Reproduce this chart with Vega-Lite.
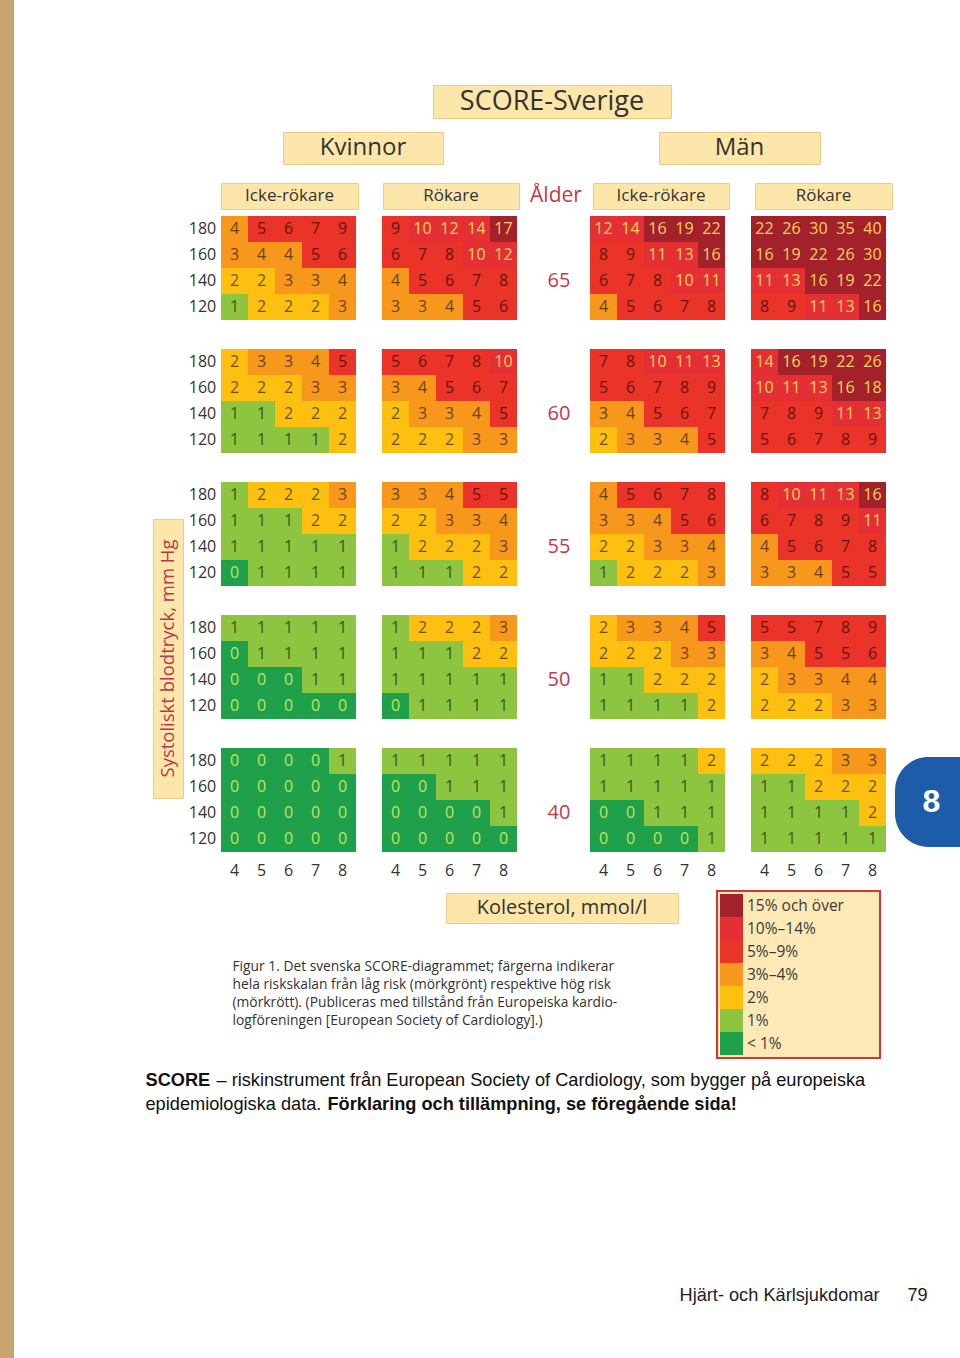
{
"$schema":"https://vega.github.io/schema/vega-lite/v6.json",
"padding":0,
"background":"#ffffff",
"data":{"values":[{}]},
"config":{"view":{"stroke":null},"text":{"font":"Open Sans"},"legend":{"strokeWidth":2}},
"datasets":{
"nivaer":[
{"risk":0,"niva":"< 1%"},{"risk":1,"niva":"1%"},{"risk":2,"niva":"2%"},{"risk":3,"niva":"3%–4%"},{"risk":4,"niva":"3%–4%"},
{"risk":5,"niva":"5%–9%"},{"risk":6,"niva":"5%–9%"},{"risk":7,"niva":"5%–9%"},{"risk":8,"niva":"5%–9%"},{"risk":9,"niva":"5%–9%"},
{"risk":10,"niva":"10%–14%"},{"risk":11,"niva":"10%–14%"},{"risk":12,"niva":"10%–14%"},{"risk":13,"niva":"10%–14%"},{"risk":14,"niva":"10%–14%"},
{"risk":15,"niva":"15% och över"},{"risk":16,"niva":"15% och över"},{"risk":17,"niva":"15% och över"},{"risk":18,"niva":"15% och över"},{"risk":19,"niva":"15% och över"},
{"risk":22,"niva":"15% och över"},{"risk":26,"niva":"15% och över"},{"risk":30,"niva":"15% och över"},{"risk":35,"niva":"15% och över"},{"risk":40,"niva":"15% och över"}
],
"kn":[
{"age":65,"sbp":180,"chol":4,"risk":4},{"age":65,"sbp":180,"chol":5,"risk":5},{"age":65,"sbp":180,"chol":6,"risk":6},{"age":65,"sbp":180,"chol":7,"risk":7},{"age":65,"sbp":180,"chol":8,"risk":9},
{"age":65,"sbp":160,"chol":4,"risk":3},{"age":65,"sbp":160,"chol":5,"risk":4},{"age":65,"sbp":160,"chol":6,"risk":4},{"age":65,"sbp":160,"chol":7,"risk":5},{"age":65,"sbp":160,"chol":8,"risk":6},
{"age":65,"sbp":140,"chol":4,"risk":2},{"age":65,"sbp":140,"chol":5,"risk":2},{"age":65,"sbp":140,"chol":6,"risk":3},{"age":65,"sbp":140,"chol":7,"risk":3},{"age":65,"sbp":140,"chol":8,"risk":4},
{"age":65,"sbp":120,"chol":4,"risk":1},{"age":65,"sbp":120,"chol":5,"risk":2},{"age":65,"sbp":120,"chol":6,"risk":2},{"age":65,"sbp":120,"chol":7,"risk":2},{"age":65,"sbp":120,"chol":8,"risk":3},
{"age":60,"sbp":180,"chol":4,"risk":2},{"age":60,"sbp":180,"chol":5,"risk":3},{"age":60,"sbp":180,"chol":6,"risk":3},{"age":60,"sbp":180,"chol":7,"risk":4},{"age":60,"sbp":180,"chol":8,"risk":5},
{"age":60,"sbp":160,"chol":4,"risk":2},{"age":60,"sbp":160,"chol":5,"risk":2},{"age":60,"sbp":160,"chol":6,"risk":2},{"age":60,"sbp":160,"chol":7,"risk":3},{"age":60,"sbp":160,"chol":8,"risk":3},
{"age":60,"sbp":140,"chol":4,"risk":1},{"age":60,"sbp":140,"chol":5,"risk":1},{"age":60,"sbp":140,"chol":6,"risk":2},{"age":60,"sbp":140,"chol":7,"risk":2},{"age":60,"sbp":140,"chol":8,"risk":2},
{"age":60,"sbp":120,"chol":4,"risk":1},{"age":60,"sbp":120,"chol":5,"risk":1},{"age":60,"sbp":120,"chol":6,"risk":1},{"age":60,"sbp":120,"chol":7,"risk":1},{"age":60,"sbp":120,"chol":8,"risk":2},
{"age":55,"sbp":180,"chol":4,"risk":1},{"age":55,"sbp":180,"chol":5,"risk":2},{"age":55,"sbp":180,"chol":6,"risk":2},{"age":55,"sbp":180,"chol":7,"risk":2},{"age":55,"sbp":180,"chol":8,"risk":3},
{"age":55,"sbp":160,"chol":4,"risk":1},{"age":55,"sbp":160,"chol":5,"risk":1},{"age":55,"sbp":160,"chol":6,"risk":1},{"age":55,"sbp":160,"chol":7,"risk":2},{"age":55,"sbp":160,"chol":8,"risk":2},
{"age":55,"sbp":140,"chol":4,"risk":1},{"age":55,"sbp":140,"chol":5,"risk":1},{"age":55,"sbp":140,"chol":6,"risk":1},{"age":55,"sbp":140,"chol":7,"risk":1},{"age":55,"sbp":140,"chol":8,"risk":1},
{"age":55,"sbp":120,"chol":4,"risk":0},{"age":55,"sbp":120,"chol":5,"risk":1},{"age":55,"sbp":120,"chol":6,"risk":1},{"age":55,"sbp":120,"chol":7,"risk":1},{"age":55,"sbp":120,"chol":8,"risk":1},
{"age":50,"sbp":180,"chol":4,"risk":1},{"age":50,"sbp":180,"chol":5,"risk":1},{"age":50,"sbp":180,"chol":6,"risk":1},{"age":50,"sbp":180,"chol":7,"risk":1},{"age":50,"sbp":180,"chol":8,"risk":1},
{"age":50,"sbp":160,"chol":4,"risk":0},{"age":50,"sbp":160,"chol":5,"risk":1},{"age":50,"sbp":160,"chol":6,"risk":1},{"age":50,"sbp":160,"chol":7,"risk":1},{"age":50,"sbp":160,"chol":8,"risk":1},
{"age":50,"sbp":140,"chol":4,"risk":0},{"age":50,"sbp":140,"chol":5,"risk":0},{"age":50,"sbp":140,"chol":6,"risk":0},{"age":50,"sbp":140,"chol":7,"risk":1},{"age":50,"sbp":140,"chol":8,"risk":1},
{"age":50,"sbp":120,"chol":4,"risk":0},{"age":50,"sbp":120,"chol":5,"risk":0},{"age":50,"sbp":120,"chol":6,"risk":0},{"age":50,"sbp":120,"chol":7,"risk":0},{"age":50,"sbp":120,"chol":8,"risk":0},
{"age":40,"sbp":180,"chol":4,"risk":0},{"age":40,"sbp":180,"chol":5,"risk":0},{"age":40,"sbp":180,"chol":6,"risk":0},{"age":40,"sbp":180,"chol":7,"risk":0},{"age":40,"sbp":180,"chol":8,"risk":1},
{"age":40,"sbp":160,"chol":4,"risk":0},{"age":40,"sbp":160,"chol":5,"risk":0},{"age":40,"sbp":160,"chol":6,"risk":0},{"age":40,"sbp":160,"chol":7,"risk":0},{"age":40,"sbp":160,"chol":8,"risk":0},
{"age":40,"sbp":140,"chol":4,"risk":0},{"age":40,"sbp":140,"chol":5,"risk":0},{"age":40,"sbp":140,"chol":6,"risk":0},{"age":40,"sbp":140,"chol":7,"risk":0},{"age":40,"sbp":140,"chol":8,"risk":0},
{"age":40,"sbp":120,"chol":4,"risk":0},{"age":40,"sbp":120,"chol":5,"risk":0},{"age":40,"sbp":120,"chol":6,"risk":0},{"age":40,"sbp":120,"chol":7,"risk":0},{"age":40,"sbp":120,"chol":8,"risk":0}
],
"kr":[
{"age":65,"sbp":180,"chol":4,"risk":9},{"age":65,"sbp":180,"chol":5,"risk":10},{"age":65,"sbp":180,"chol":6,"risk":12},{"age":65,"sbp":180,"chol":7,"risk":14},{"age":65,"sbp":180,"chol":8,"risk":17},
{"age":65,"sbp":160,"chol":4,"risk":6},{"age":65,"sbp":160,"chol":5,"risk":7},{"age":65,"sbp":160,"chol":6,"risk":8},{"age":65,"sbp":160,"chol":7,"risk":10},{"age":65,"sbp":160,"chol":8,"risk":12},
{"age":65,"sbp":140,"chol":4,"risk":4},{"age":65,"sbp":140,"chol":5,"risk":5},{"age":65,"sbp":140,"chol":6,"risk":6},{"age":65,"sbp":140,"chol":7,"risk":7},{"age":65,"sbp":140,"chol":8,"risk":8},
{"age":65,"sbp":120,"chol":4,"risk":3},{"age":65,"sbp":120,"chol":5,"risk":3},{"age":65,"sbp":120,"chol":6,"risk":4},{"age":65,"sbp":120,"chol":7,"risk":5},{"age":65,"sbp":120,"chol":8,"risk":6},
{"age":60,"sbp":180,"chol":4,"risk":5},{"age":60,"sbp":180,"chol":5,"risk":6},{"age":60,"sbp":180,"chol":6,"risk":7},{"age":60,"sbp":180,"chol":7,"risk":8},{"age":60,"sbp":180,"chol":8,"risk":10},
{"age":60,"sbp":160,"chol":4,"risk":3},{"age":60,"sbp":160,"chol":5,"risk":4},{"age":60,"sbp":160,"chol":6,"risk":5},{"age":60,"sbp":160,"chol":7,"risk":6},{"age":60,"sbp":160,"chol":8,"risk":7},
{"age":60,"sbp":140,"chol":4,"risk":2},{"age":60,"sbp":140,"chol":5,"risk":3},{"age":60,"sbp":140,"chol":6,"risk":3},{"age":60,"sbp":140,"chol":7,"risk":4},{"age":60,"sbp":140,"chol":8,"risk":5},
{"age":60,"sbp":120,"chol":4,"risk":2},{"age":60,"sbp":120,"chol":5,"risk":2},{"age":60,"sbp":120,"chol":6,"risk":2},{"age":60,"sbp":120,"chol":7,"risk":3},{"age":60,"sbp":120,"chol":8,"risk":3},
{"age":55,"sbp":180,"chol":4,"risk":3},{"age":55,"sbp":180,"chol":5,"risk":3},{"age":55,"sbp":180,"chol":6,"risk":4},{"age":55,"sbp":180,"chol":7,"risk":5},{"age":55,"sbp":180,"chol":8,"risk":5},
{"age":55,"sbp":160,"chol":4,"risk":2},{"age":55,"sbp":160,"chol":5,"risk":2},{"age":55,"sbp":160,"chol":6,"risk":3},{"age":55,"sbp":160,"chol":7,"risk":3},{"age":55,"sbp":160,"chol":8,"risk":4},
{"age":55,"sbp":140,"chol":4,"risk":1},{"age":55,"sbp":140,"chol":5,"risk":2},{"age":55,"sbp":140,"chol":6,"risk":2},{"age":55,"sbp":140,"chol":7,"risk":2},{"age":55,"sbp":140,"chol":8,"risk":3},
{"age":55,"sbp":120,"chol":4,"risk":1},{"age":55,"sbp":120,"chol":5,"risk":1},{"age":55,"sbp":120,"chol":6,"risk":1},{"age":55,"sbp":120,"chol":7,"risk":2},{"age":55,"sbp":120,"chol":8,"risk":2},
{"age":50,"sbp":180,"chol":4,"risk":1},{"age":50,"sbp":180,"chol":5,"risk":2},{"age":50,"sbp":180,"chol":6,"risk":2},{"age":50,"sbp":180,"chol":7,"risk":2},{"age":50,"sbp":180,"chol":8,"risk":3},
{"age":50,"sbp":160,"chol":4,"risk":1},{"age":50,"sbp":160,"chol":5,"risk":1},{"age":50,"sbp":160,"chol":6,"risk":1},{"age":50,"sbp":160,"chol":7,"risk":2},{"age":50,"sbp":160,"chol":8,"risk":2},
{"age":50,"sbp":140,"chol":4,"risk":1},{"age":50,"sbp":140,"chol":5,"risk":1},{"age":50,"sbp":140,"chol":6,"risk":1},{"age":50,"sbp":140,"chol":7,"risk":1},{"age":50,"sbp":140,"chol":8,"risk":1},
{"age":50,"sbp":120,"chol":4,"risk":0},{"age":50,"sbp":120,"chol":5,"risk":1},{"age":50,"sbp":120,"chol":6,"risk":1},{"age":50,"sbp":120,"chol":7,"risk":1},{"age":50,"sbp":120,"chol":8,"risk":1},
{"age":40,"sbp":180,"chol":4,"risk":1},{"age":40,"sbp":180,"chol":5,"risk":1},{"age":40,"sbp":180,"chol":6,"risk":1},{"age":40,"sbp":180,"chol":7,"risk":1},{"age":40,"sbp":180,"chol":8,"risk":1},
{"age":40,"sbp":160,"chol":4,"risk":0},{"age":40,"sbp":160,"chol":5,"risk":0},{"age":40,"sbp":160,"chol":6,"risk":1},{"age":40,"sbp":160,"chol":7,"risk":1},{"age":40,"sbp":160,"chol":8,"risk":1},
{"age":40,"sbp":140,"chol":4,"risk":0},{"age":40,"sbp":140,"chol":5,"risk":0},{"age":40,"sbp":140,"chol":6,"risk":0},{"age":40,"sbp":140,"chol":7,"risk":0},{"age":40,"sbp":140,"chol":8,"risk":1},
{"age":40,"sbp":120,"chol":4,"risk":0},{"age":40,"sbp":120,"chol":5,"risk":0},{"age":40,"sbp":120,"chol":6,"risk":0},{"age":40,"sbp":120,"chol":7,"risk":0},{"age":40,"sbp":120,"chol":8,"risk":0}
],
"mn":[
{"age":65,"sbp":180,"chol":4,"risk":12},{"age":65,"sbp":180,"chol":5,"risk":14},{"age":65,"sbp":180,"chol":6,"risk":16},{"age":65,"sbp":180,"chol":7,"risk":19},{"age":65,"sbp":180,"chol":8,"risk":22},
{"age":65,"sbp":160,"chol":4,"risk":8},{"age":65,"sbp":160,"chol":5,"risk":9},{"age":65,"sbp":160,"chol":6,"risk":11},{"age":65,"sbp":160,"chol":7,"risk":13},{"age":65,"sbp":160,"chol":8,"risk":16},
{"age":65,"sbp":140,"chol":4,"risk":6},{"age":65,"sbp":140,"chol":5,"risk":7},{"age":65,"sbp":140,"chol":6,"risk":8},{"age":65,"sbp":140,"chol":7,"risk":10},{"age":65,"sbp":140,"chol":8,"risk":11},
{"age":65,"sbp":120,"chol":4,"risk":4},{"age":65,"sbp":120,"chol":5,"risk":5},{"age":65,"sbp":120,"chol":6,"risk":6},{"age":65,"sbp":120,"chol":7,"risk":7},{"age":65,"sbp":120,"chol":8,"risk":8},
{"age":60,"sbp":180,"chol":4,"risk":7},{"age":60,"sbp":180,"chol":5,"risk":8},{"age":60,"sbp":180,"chol":6,"risk":10},{"age":60,"sbp":180,"chol":7,"risk":11},{"age":60,"sbp":180,"chol":8,"risk":13},
{"age":60,"sbp":160,"chol":4,"risk":5},{"age":60,"sbp":160,"chol":5,"risk":6},{"age":60,"sbp":160,"chol":6,"risk":7},{"age":60,"sbp":160,"chol":7,"risk":8},{"age":60,"sbp":160,"chol":8,"risk":9},
{"age":60,"sbp":140,"chol":4,"risk":3},{"age":60,"sbp":140,"chol":5,"risk":4},{"age":60,"sbp":140,"chol":6,"risk":5},{"age":60,"sbp":140,"chol":7,"risk":6},{"age":60,"sbp":140,"chol":8,"risk":7},
{"age":60,"sbp":120,"chol":4,"risk":2},{"age":60,"sbp":120,"chol":5,"risk":3},{"age":60,"sbp":120,"chol":6,"risk":3},{"age":60,"sbp":120,"chol":7,"risk":4},{"age":60,"sbp":120,"chol":8,"risk":5},
{"age":55,"sbp":180,"chol":4,"risk":4},{"age":55,"sbp":180,"chol":5,"risk":5},{"age":55,"sbp":180,"chol":6,"risk":6},{"age":55,"sbp":180,"chol":7,"risk":7},{"age":55,"sbp":180,"chol":8,"risk":8},
{"age":55,"sbp":160,"chol":4,"risk":3},{"age":55,"sbp":160,"chol":5,"risk":3},{"age":55,"sbp":160,"chol":6,"risk":4},{"age":55,"sbp":160,"chol":7,"risk":5},{"age":55,"sbp":160,"chol":8,"risk":6},
{"age":55,"sbp":140,"chol":4,"risk":2},{"age":55,"sbp":140,"chol":5,"risk":2},{"age":55,"sbp":140,"chol":6,"risk":3},{"age":55,"sbp":140,"chol":7,"risk":3},{"age":55,"sbp":140,"chol":8,"risk":4},
{"age":55,"sbp":120,"chol":4,"risk":1},{"age":55,"sbp":120,"chol":5,"risk":2},{"age":55,"sbp":120,"chol":6,"risk":2},{"age":55,"sbp":120,"chol":7,"risk":2},{"age":55,"sbp":120,"chol":8,"risk":3},
{"age":50,"sbp":180,"chol":4,"risk":2},{"age":50,"sbp":180,"chol":5,"risk":3},{"age":50,"sbp":180,"chol":6,"risk":3},{"age":50,"sbp":180,"chol":7,"risk":4},{"age":50,"sbp":180,"chol":8,"risk":5},
{"age":50,"sbp":160,"chol":4,"risk":2},{"age":50,"sbp":160,"chol":5,"risk":2},{"age":50,"sbp":160,"chol":6,"risk":2},{"age":50,"sbp":160,"chol":7,"risk":3},{"age":50,"sbp":160,"chol":8,"risk":3},
{"age":50,"sbp":140,"chol":4,"risk":1},{"age":50,"sbp":140,"chol":5,"risk":1},{"age":50,"sbp":140,"chol":6,"risk":2},{"age":50,"sbp":140,"chol":7,"risk":2},{"age":50,"sbp":140,"chol":8,"risk":2},
{"age":50,"sbp":120,"chol":4,"risk":1},{"age":50,"sbp":120,"chol":5,"risk":1},{"age":50,"sbp":120,"chol":6,"risk":1},{"age":50,"sbp":120,"chol":7,"risk":1},{"age":50,"sbp":120,"chol":8,"risk":2},
{"age":40,"sbp":180,"chol":4,"risk":1},{"age":40,"sbp":180,"chol":5,"risk":1},{"age":40,"sbp":180,"chol":6,"risk":1},{"age":40,"sbp":180,"chol":7,"risk":1},{"age":40,"sbp":180,"chol":8,"risk":2},
{"age":40,"sbp":160,"chol":4,"risk":1},{"age":40,"sbp":160,"chol":5,"risk":1},{"age":40,"sbp":160,"chol":6,"risk":1},{"age":40,"sbp":160,"chol":7,"risk":1},{"age":40,"sbp":160,"chol":8,"risk":1},
{"age":40,"sbp":140,"chol":4,"risk":0},{"age":40,"sbp":140,"chol":5,"risk":0},{"age":40,"sbp":140,"chol":6,"risk":1},{"age":40,"sbp":140,"chol":7,"risk":1},{"age":40,"sbp":140,"chol":8,"risk":1},
{"age":40,"sbp":120,"chol":4,"risk":0},{"age":40,"sbp":120,"chol":5,"risk":0},{"age":40,"sbp":120,"chol":6,"risk":0},{"age":40,"sbp":120,"chol":7,"risk":0},{"age":40,"sbp":120,"chol":8,"risk":1}
],
"mr":[
{"age":65,"sbp":180,"chol":4,"risk":22},{"age":65,"sbp":180,"chol":5,"risk":26},{"age":65,"sbp":180,"chol":6,"risk":30},{"age":65,"sbp":180,"chol":7,"risk":35},{"age":65,"sbp":180,"chol":8,"risk":40},
{"age":65,"sbp":160,"chol":4,"risk":16},{"age":65,"sbp":160,"chol":5,"risk":19},{"age":65,"sbp":160,"chol":6,"risk":22},{"age":65,"sbp":160,"chol":7,"risk":26},{"age":65,"sbp":160,"chol":8,"risk":30},
{"age":65,"sbp":140,"chol":4,"risk":11},{"age":65,"sbp":140,"chol":5,"risk":13},{"age":65,"sbp":140,"chol":6,"risk":16},{"age":65,"sbp":140,"chol":7,"risk":19},{"age":65,"sbp":140,"chol":8,"risk":22},
{"age":65,"sbp":120,"chol":4,"risk":8},{"age":65,"sbp":120,"chol":5,"risk":9},{"age":65,"sbp":120,"chol":6,"risk":11},{"age":65,"sbp":120,"chol":7,"risk":13},{"age":65,"sbp":120,"chol":8,"risk":16},
{"age":60,"sbp":180,"chol":4,"risk":14},{"age":60,"sbp":180,"chol":5,"risk":16},{"age":60,"sbp":180,"chol":6,"risk":19},{"age":60,"sbp":180,"chol":7,"risk":22},{"age":60,"sbp":180,"chol":8,"risk":26},
{"age":60,"sbp":160,"chol":4,"risk":10},{"age":60,"sbp":160,"chol":5,"risk":11},{"age":60,"sbp":160,"chol":6,"risk":13},{"age":60,"sbp":160,"chol":7,"risk":16},{"age":60,"sbp":160,"chol":8,"risk":18},
{"age":60,"sbp":140,"chol":4,"risk":7},{"age":60,"sbp":140,"chol":5,"risk":8},{"age":60,"sbp":140,"chol":6,"risk":9},{"age":60,"sbp":140,"chol":7,"risk":11},{"age":60,"sbp":140,"chol":8,"risk":13},
{"age":60,"sbp":120,"chol":4,"risk":5},{"age":60,"sbp":120,"chol":5,"risk":6},{"age":60,"sbp":120,"chol":6,"risk":7},{"age":60,"sbp":120,"chol":7,"risk":8},{"age":60,"sbp":120,"chol":8,"risk":9},
{"age":55,"sbp":180,"chol":4,"risk":8},{"age":55,"sbp":180,"chol":5,"risk":10},{"age":55,"sbp":180,"chol":6,"risk":11},{"age":55,"sbp":180,"chol":7,"risk":13},{"age":55,"sbp":180,"chol":8,"risk":16},
{"age":55,"sbp":160,"chol":4,"risk":6},{"age":55,"sbp":160,"chol":5,"risk":7},{"age":55,"sbp":160,"chol":6,"risk":8},{"age":55,"sbp":160,"chol":7,"risk":9},{"age":55,"sbp":160,"chol":8,"risk":11},
{"age":55,"sbp":140,"chol":4,"risk":4},{"age":55,"sbp":140,"chol":5,"risk":5},{"age":55,"sbp":140,"chol":6,"risk":6},{"age":55,"sbp":140,"chol":7,"risk":7},{"age":55,"sbp":140,"chol":8,"risk":8},
{"age":55,"sbp":120,"chol":4,"risk":3},{"age":55,"sbp":120,"chol":5,"risk":3},{"age":55,"sbp":120,"chol":6,"risk":4},{"age":55,"sbp":120,"chol":7,"risk":5},{"age":55,"sbp":120,"chol":8,"risk":5},
{"age":50,"sbp":180,"chol":4,"risk":5},{"age":50,"sbp":180,"chol":5,"risk":5},{"age":50,"sbp":180,"chol":6,"risk":7},{"age":50,"sbp":180,"chol":7,"risk":8},{"age":50,"sbp":180,"chol":8,"risk":9},
{"age":50,"sbp":160,"chol":4,"risk":3},{"age":50,"sbp":160,"chol":5,"risk":4},{"age":50,"sbp":160,"chol":6,"risk":5},{"age":50,"sbp":160,"chol":7,"risk":5},{"age":50,"sbp":160,"chol":8,"risk":6},
{"age":50,"sbp":140,"chol":4,"risk":2},{"age":50,"sbp":140,"chol":5,"risk":3},{"age":50,"sbp":140,"chol":6,"risk":3},{"age":50,"sbp":140,"chol":7,"risk":4},{"age":50,"sbp":140,"chol":8,"risk":4},
{"age":50,"sbp":120,"chol":4,"risk":2},{"age":50,"sbp":120,"chol":5,"risk":2},{"age":50,"sbp":120,"chol":6,"risk":2},{"age":50,"sbp":120,"chol":7,"risk":3},{"age":50,"sbp":120,"chol":8,"risk":3},
{"age":40,"sbp":180,"chol":4,"risk":2},{"age":40,"sbp":180,"chol":5,"risk":2},{"age":40,"sbp":180,"chol":6,"risk":2},{"age":40,"sbp":180,"chol":7,"risk":3},{"age":40,"sbp":180,"chol":8,"risk":3},
{"age":40,"sbp":160,"chol":4,"risk":1},{"age":40,"sbp":160,"chol":5,"risk":1},{"age":40,"sbp":160,"chol":6,"risk":2},{"age":40,"sbp":160,"chol":7,"risk":2},{"age":40,"sbp":160,"chol":8,"risk":2},
{"age":40,"sbp":140,"chol":4,"risk":1},{"age":40,"sbp":140,"chol":5,"risk":1},{"age":40,"sbp":140,"chol":6,"risk":1},{"age":40,"sbp":140,"chol":7,"risk":1},{"age":40,"sbp":140,"chol":8,"risk":2},
{"age":40,"sbp":120,"chol":4,"risk":1},{"age":40,"sbp":120,"chol":5,"risk":1},{"age":40,"sbp":120,"chol":6,"risk":1},{"age":40,"sbp":120,"chol":7,"risk":1},{"age":40,"sbp":120,"chol":8,"risk":1}
]
},
"spacing":0,
"hconcat":[
{"width":14,"height":1358,"mark":{"type":"rect","color":"#C9A46E"},"encoding":{}},
{"spacing":0,"vconcat":[
{"width":1,"height":84,"mark":{"type":"rect","opacity":0},"encoding":{}},
{"spacing":0,"hconcat":[
{"width":418,"height":33,"mark":{"type":"rect","opacity":0},"encoding":{}},
{"width":238,"height":33,"view":{"fill":"#FDE6A9","stroke":"#EECB88","strokeWidth":1},"mark":{"type":"text","fontSize":27,"font":"Open Sans","color":"#333333"},"encoding":{"text":{"value":"SCORE-Sverige"}}}
]},
{"width":1,"height":12,"mark":{"type":"rect","opacity":0},"encoding":{}},
{"spacing":0,"hconcat":[
{"width":268,"height":32,"mark":{"type":"rect","opacity":0},"encoding":{}},
{"width":160,"height":32,"view":{"fill":"#FDE6A9","stroke":"#EECB88","strokeWidth":1},"mark":{"type":"text","fontSize":24,"font":"Open Sans","color":"#333333"},"encoding":{"text":{"value":"Kvinnor"}}},
{"width":214,"height":32,"mark":{"type":"rect","opacity":0},"encoding":{}},
{"width":161,"height":32,"view":{"fill":"#FDE6A9","stroke":"#EECB88","strokeWidth":1},"mark":{"type":"text","fontSize":24,"font":"Open Sans","color":"#333333"},"encoding":{"text":{"value":"Män"}}}
]},
{"width":1,"height":17,"mark":{"type":"rect","opacity":0},"encoding":{}},
{"spacing":0,"hconcat":[
{"width":206,"height":26,"mark":{"type":"rect","opacity":0},"encoding":{}},
{"width":137,"height":26,"view":{"fill":"#FDE6A9","stroke":"#EECB88","strokeWidth":1},"mark":{"type":"text","fontSize":17,"font":"Open Sans","color":"#333333"},"encoding":{"text":{"value":"Icke-rökare"}}},
{"width":23,"height":26,"mark":{"type":"rect","opacity":0},"encoding":{}},
{"width":136,"height":26,"view":{"fill":"#FDE6A9","stroke":"#EECB88","strokeWidth":1},"mark":{"type":"text","fontSize":17,"font":"Open Sans","color":"#333333"},"encoding":{"text":{"value":"Rökare"}}},
{"width":72,"height":26,"mark":{"type":"text","fontSize":21,"font":"Open Sans","color":"#C23A4D"},"encoding":{"text":{"value":"Ålder"}}},
{"width":136,"height":26,"view":{"fill":"#FDE6A9","stroke":"#EECB88","strokeWidth":1},"mark":{"type":"text","fontSize":17,"font":"Open Sans","color":"#333333"},"encoding":{"text":{"value":"Icke-rökare"}}},
{"width":24,"height":26,"mark":{"type":"rect","opacity":0},"encoding":{}},
{"width":137,"height":26,"view":{"fill":"#FDE6A9","stroke":"#EECB88","strokeWidth":1},"mark":{"type":"text","fontSize":17,"font":"Open Sans","color":"#333333"},"encoding":{"text":{"value":"Rökare"}}}
]},
{"width":1,"height":6,"mark":{"type":"rect","opacity":0},"encoding":{}},
{"spacing":0,"resolve":{"scale":{"yOffset":"independent"}},"hconcat":[
{"width":138,"height":636,"mark":{"type":"rect","opacity":0},"encoding":{}},
{"spacing":0,"vconcat":[
{"width":30,"height":302,"mark":{"type":"rect","opacity":0},"encoding":{}},
{"width":30,"height":279,"view":{"fill":"#FDE6A9","stroke":"#EECB88","strokeWidth":1},"mark":{"type":"text","angle":270,"fontSize":18.5,"font":"Open Sans","color":"#B8384B"},"encoding":{"text":{"value":"Systoliskt blodtryck, mm Hg"}}}
]},
{"width":37,"height":636,"data":{"name":"kn"},"transform":[{"filter":"datum.chol == 4"}],"mark":{"type":"text","fontSize":16,"font":"Open Sans","color":"#333333"},"encoding":{"y":{"field":"age","type":"ordinal","scale":{"type":"band","domain":[65,60,55,50,40],"paddingInner":0.2180451,"paddingOuter":0},"axis":null},"yOffset":{"field":"sbp","type":"ordinal","scale":{"type":"band","domain":[180,160,140,120],"paddingInner":0,"paddingOuter":0}},"text":{"field":"sbp"}}},
{"width":135,"height":636,"data":{"name":"kn"},"transform":[{"lookup":"risk","from":{"data":{"name":"nivaer"},"key":"risk","fields":["niva"]}}],
 "encoding":{"x":{"field":"chol","type":"ordinal","scale":{"domain":[4,5,6,7,8],"paddingInner":0,"paddingOuter":0},"axis":{"orient":"bottom","title":null,"labelAngle":0,"domain":false,"ticks":false,"tickSize":0,"labelPadding":10,"labelFontSize":16,"labelFont":"Open Sans","labelColor":"#333333"}},
 "y":{"field":"age","type":"ordinal","scale":{"domain":[65,60,55,50,40],"paddingInner":0.2180451,"paddingOuter":0},"axis":null},
 "yOffset":{"field":"sbp","type":"ordinal","scale":{"domain":[180,160,140,120],"paddingInner":0,"paddingOuter":0}}},
 "layer":[
 {"mark":{"type":"rect"},"encoding":{"color":{"field":"niva","type":"nominal","scale":{"domain":["15% och över","10%–14%","5%–9%","3%–4%","2%","1%","< 1%"],"range":["#A2212A","#E42F35","#EA3329","#F7981D","#FDC010","#8DC540","#1FA04B"]},"legend":{"orient":"none","legendX":717,"legendY":891,"title":null,"labelExpr":"datum.label + '\u00a0\u00a0\u00a0\u00a0\u00a0\u00a0\u00a0\u00a0\u200b'","symbolType":"square","symbolSize":529,"symbolStrokeWidth":0,"symbolOpacity":1,"rowPadding":0,"labelOffset":4,"labelFontSize":15.5,"labelFont":"Open Sans","labelColor":"#3a3a3a","padding":3,"fillColor":"#FDE9B5","strokeColor":"#D2353A"}}}},
 {"mark":{"type":"text","fontSize":16,"font":"Open Sans"},"encoding":{"text":{"field":"risk"},"color":{"condition":[{"test":"datum.risk >= 10","value":"#FCD35C"},{"test":"datum.risk == 0","value":"#C2E45E"}],"value":"#000000"},"opacity":{"condition":{"test":"datum.risk >= 10 || datum.risk == 0","value":1},"value":0.58}}}
 ]},
{"width":26,"height":636,"mark":{"type":"rect","opacity":0},"encoding":{}},
{"width":135,"height":636,"data":{"name":"kr"},"transform":[{"lookup":"risk","from":{"data":{"name":"nivaer"},"key":"risk","fields":["niva"]}}],
 "encoding":{"x":{"field":"chol","type":"ordinal","scale":{"domain":[4,5,6,7,8],"paddingInner":0,"paddingOuter":0},"axis":{"orient":"bottom","title":null,"labelAngle":0,"domain":false,"ticks":false,"tickSize":0,"labelPadding":10,"labelFontSize":16,"labelFont":"Open Sans","labelColor":"#333333"}},
 "y":{"field":"age","type":"ordinal","scale":{"domain":[65,60,55,50,40],"paddingInner":0.2180451,"paddingOuter":0},"axis":null},
 "yOffset":{"field":"sbp","type":"ordinal","scale":{"domain":[180,160,140,120],"paddingInner":0,"paddingOuter":0}}},
 "layer":[
 {"mark":{"type":"rect"},"encoding":{"color":{"field":"niva","type":"nominal","scale":{"domain":["15% och över","10%–14%","5%–9%","3%–4%","2%","1%","< 1%"],"range":["#A2212A","#E42F35","#EA3329","#F7981D","#FDC010","#8DC540","#1FA04B"]},"legend":{"orient":"none","legendX":717,"legendY":891,"title":null,"labelExpr":"datum.label + '\u00a0\u00a0\u00a0\u00a0\u00a0\u00a0\u00a0\u00a0\u200b'","symbolType":"square","symbolSize":529,"symbolStrokeWidth":0,"symbolOpacity":1,"rowPadding":0,"labelOffset":4,"labelFontSize":15.5,"labelFont":"Open Sans","labelColor":"#3a3a3a","padding":3,"fillColor":"#FDE9B5","strokeColor":"#D2353A"}}}},
 {"mark":{"type":"text","fontSize":16,"font":"Open Sans"},"encoding":{"text":{"field":"risk"},"color":{"condition":[{"test":"datum.risk >= 10","value":"#FCD35C"},{"test":"datum.risk == 0","value":"#C2E45E"}],"value":"#000000"},"opacity":{"condition":{"test":"datum.risk >= 10 || datum.risk == 0","value":1},"value":0.58}}}
 ]},
{"width":11,"height":636,"mark":{"type":"rect","opacity":0},"encoding":{}},
{"width":62,"height":636,"data":{"name":"kn"},"transform":[{"filter":"datum.chol == 4 && datum.sbp == 140"}],"mark":{"type":"text","fontSize":20,"font":"Open Sans","color":"#C23A4D"},"encoding":{"y":{"field":"age","type":"ordinal","scale":{"type":"band","domain":[65,60,55,50,40],"paddingInner":0.2180451,"paddingOuter":0},"axis":null},"yOffset":{"field":"sbp","type":"ordinal","scale":{"type":"band","domain":[180,160,140,120],"paddingInner":0,"paddingOuter":0}},"text":{"field":"age"}}},
{"width":135,"height":636,"data":{"name":"mn"},"transform":[{"lookup":"risk","from":{"data":{"name":"nivaer"},"key":"risk","fields":["niva"]}}],
 "encoding":{"x":{"field":"chol","type":"ordinal","scale":{"domain":[4,5,6,7,8],"paddingInner":0,"paddingOuter":0},"axis":{"orient":"bottom","title":null,"labelAngle":0,"domain":false,"ticks":false,"tickSize":0,"labelPadding":10,"labelFontSize":16,"labelFont":"Open Sans","labelColor":"#333333"}},
 "y":{"field":"age","type":"ordinal","scale":{"domain":[65,60,55,50,40],"paddingInner":0.2180451,"paddingOuter":0},"axis":null},
 "yOffset":{"field":"sbp","type":"ordinal","scale":{"domain":[180,160,140,120],"paddingInner":0,"paddingOuter":0}}},
 "layer":[
 {"mark":{"type":"rect"},"encoding":{"color":{"field":"niva","type":"nominal","scale":{"domain":["15% och över","10%–14%","5%–9%","3%–4%","2%","1%","< 1%"],"range":["#A2212A","#E42F35","#EA3329","#F7981D","#FDC010","#8DC540","#1FA04B"]},"legend":{"orient":"none","legendX":717,"legendY":891,"title":null,"labelExpr":"datum.label + '\u00a0\u00a0\u00a0\u00a0\u00a0\u00a0\u00a0\u00a0\u200b'","symbolType":"square","symbolSize":529,"symbolStrokeWidth":0,"symbolOpacity":1,"rowPadding":0,"labelOffset":4,"labelFontSize":15.5,"labelFont":"Open Sans","labelColor":"#3a3a3a","padding":3,"fillColor":"#FDE9B5","strokeColor":"#D2353A"}}}},
 {"mark":{"type":"text","fontSize":16,"font":"Open Sans"},"encoding":{"text":{"field":"risk"},"color":{"condition":[{"test":"datum.risk >= 10","value":"#FCD35C"},{"test":"datum.risk == 0","value":"#C2E45E"}],"value":"#000000"},"opacity":{"condition":{"test":"datum.risk >= 10 || datum.risk == 0","value":1},"value":0.58}}}
 ]},
{"width":26,"height":636,"mark":{"type":"rect","opacity":0},"encoding":{}},
{"width":135,"height":636,"data":{"name":"mr"},"transform":[{"lookup":"risk","from":{"data":{"name":"nivaer"},"key":"risk","fields":["niva"]}}],
 "encoding":{"x":{"field":"chol","type":"ordinal","scale":{"domain":[4,5,6,7,8],"paddingInner":0,"paddingOuter":0},"axis":{"orient":"bottom","title":null,"labelAngle":0,"domain":false,"ticks":false,"tickSize":0,"labelPadding":10,"labelFontSize":16,"labelFont":"Open Sans","labelColor":"#333333"}},
 "y":{"field":"age","type":"ordinal","scale":{"domain":[65,60,55,50,40],"paddingInner":0.2180451,"paddingOuter":0},"axis":null},
 "yOffset":{"field":"sbp","type":"ordinal","scale":{"domain":[180,160,140,120],"paddingInner":0,"paddingOuter":0}}},
 "layer":[
 {"mark":{"type":"rect"},"encoding":{"color":{"field":"niva","type":"nominal","scale":{"domain":["15% och över","10%–14%","5%–9%","3%–4%","2%","1%","< 1%"],"range":["#A2212A","#E42F35","#EA3329","#F7981D","#FDC010","#8DC540","#1FA04B"]},"legend":{"orient":"none","legendX":717,"legendY":891,"title":null,"labelExpr":"datum.label + '\u00a0\u00a0\u00a0\u00a0\u00a0\u00a0\u00a0\u00a0\u200b'","symbolType":"square","symbolSize":529,"symbolStrokeWidth":0,"symbolOpacity":1,"rowPadding":0,"labelOffset":4,"labelFontSize":15.5,"labelFont":"Open Sans","labelColor":"#3a3a3a","padding":3,"fillColor":"#FDE9B5","strokeColor":"#D2353A"}}}},
 {"mark":{"type":"text","fontSize":16,"font":"Open Sans"},"encoding":{"text":{"field":"risk"},"color":{"condition":[{"test":"datum.risk >= 10","value":"#FCD35C"},{"test":"datum.risk == 0","value":"#C2E45E"}],"value":"#000000"},"opacity":{"condition":{"test":"datum.risk >= 10 || datum.risk == 0","value":1},"value":0.58}}}
 ]},
{"width":9,"height":636,"mark":{"type":"rect","opacity":0},"encoding":{}},
{"spacing":0,"vconcat":[
{"width":67,"height":541,"mark":{"type":"rect","opacity":0},"encoding":{}},
{"width":67,"height":90,"layer":[
 {"mark":{"type":"rect","color":"#1D5CA8","cornerRadiusTopLeft":42,"cornerRadiusBottomLeft":42},"encoding":{}},
 {"mark":{"type":"text","fontSize":32,"fontWeight":"bold","font":"Liberation Sans","color":"#ffffff","dx":3},"encoding":{"text":{"value":"8"}}}
]}
]}
]},
{"width":1,"height":14,"mark":{"type":"rect","opacity":0},"encoding":{}},
{"spacing":0,"hconcat":[
{"width":431,"height":30,"mark":{"type":"rect","opacity":0},"encoding":{}},
{"width":232,"height":30,"view":{"fill":"#FDE6A9","stroke":"#EECB88","strokeWidth":1},"mark":{"type":"text","fontSize":20,"font":"Open Sans","color":"#333333"},"encoding":{"text":{"value":"Kolesterol, mmol/l"}}}
]},
{"width":1,"height":34,"mark":{"type":"rect","opacity":0},"encoding":{}},
{"spacing":0,"hconcat":[
{"width":218,"height":70,"mark":{"type":"rect","opacity":0},"encoding":{}},
{"spacing":0,"vconcat":[
{"width":1,"height":17.6,"mark":{"type":"text","align":"left","fontSize":13.8,"font":"Open Sans","color":"#333333"},"encoding":{"text":{"value":"Figur 1.  Det svenska SCORE-diagrammet; färgerna indikerar"}}},
{"width":1,"height":17.6,"mark":{"type":"text","align":"left","fontSize":13.8,"font":"Open Sans","color":"#333333"},"encoding":{"text":{"value":"hela riskskalan från låg risk (mörkgrönt) respektive hög risk"}}},
{"width":1,"height":17.6,"mark":{"type":"text","align":"left","fontSize":13.8,"font":"Open Sans","color":"#333333"},"encoding":{"text":{"value":"(mörkrött). (Publiceras med tillstånd från Europeiska kardio-"}}},
{"width":1,"height":17.6,"mark":{"type":"text","align":"left","fontSize":13.8,"font":"Open Sans","color":"#333333"},"encoding":{"text":{"value":"logföreningen [European Society of Cardiology].)"}}}
]}
]},
{"width":1,"height":39,"mark":{"type":"rect","opacity":0},"encoding":{}},
{"spacing":0,"hconcat":[
{"width":131,"height":24,"mark":{"type":"rect","opacity":0},"encoding":{}},
{"spacing":5,"hconcat":[
{"width":1,"height":24,"mark":{"type":"text","align":"left","fontSize":18.2,"fontWeight":"bold","font":"Liberation Sans","color":"#111111"},"encoding":{"text":{"value":"SCORE"}}},
{"width":1,"height":24,"mark":{"type":"text","align":"left","fontSize":18.2,"font":"Liberation Sans","color":"#111111"},"encoding":{"text":{"value":"– riskinstrument från European Society of Cardiology, som bygger på europeiska"}}}
]}
]},
{"spacing":0,"hconcat":[
{"width":131,"height":24,"mark":{"type":"rect","opacity":0},"encoding":{}},
{"spacing":5,"hconcat":[
{"width":1,"height":24,"mark":{"type":"text","align":"left","fontSize":18.2,"font":"Liberation Sans","color":"#111111"},"encoding":{"text":{"value":"epidemiologiska data."}}},
{"width":1,"height":24,"mark":{"type":"text","align":"left","fontSize":18.2,"fontWeight":"bold","font":"Liberation Sans","color":"#111111"},"encoding":{"text":{"value":"Förklaring och tillämpning, se föregående sida!"}}}
]}
]},
{"width":1,"height":167,"mark":{"type":"rect","opacity":0},"encoding":{}},
{"spacing":0,"hconcat":[
{"width":665,"height":24,"mark":{"type":"rect","opacity":0},"encoding":{}},
{"spacing":27,"hconcat":[
{"width":1,"height":24,"mark":{"type":"text","align":"left","fontSize":18.2,"font":"Liberation Sans","color":"#222222"},"encoding":{"text":{"value":"Hjärt- och Kärlsjukdomar"}}},
{"width":1,"height":24,"mark":{"type":"text","align":"left","fontSize":18.2,"font":"Liberation Sans","color":"#222222"},"encoding":{"text":{"value":"79"}}}
]}
]}
]}
]
}
